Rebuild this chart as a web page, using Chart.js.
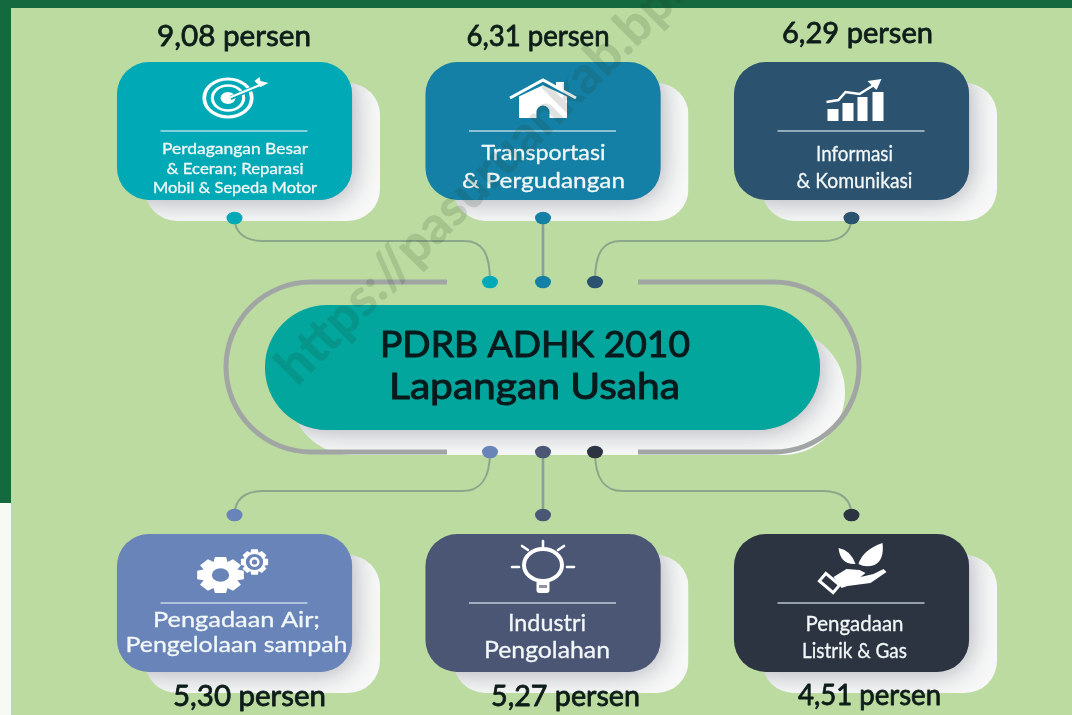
<!DOCTYPE html>
<html>
<head>
<meta charset="utf-8">
<title>PDRB ADHK 2010 Lapangan Usaha</title>
<script src="https://cdn.jsdelivr.net/npm/chart.js@4"></script>
<style>
  html, body { margin: 0; padding: 0; background: #bbdba0; }
  canvas { display: block; }
</style>
</head>
<body>
<canvas id="chart" width="1072" height="715"></canvas>
<script>
// data
const kolom = ['kiri', 'tengah', 'kanan'];
const kategoriAtas = [
  ['Perdagangan Besar', '& Eceran; Reparasi', 'Mobil & Sepeda Motor'],
  ['Transportasi', '& Pergudangan'],
  ['Informasi', '& Komunikasi']
];
const kategoriBawah = [
  ['Pengadaan Air;', 'Pengelolaan sampah'],
  ['Industri', 'Pengolahan'],
  ['Pengadaan', 'Listrik & Gas']
];
const nilaiAtas = [9.08, 6.31, 6.29];
const nilaiBawah = [5.30, 5.27, 4.51];
const judul = ['PDRB ADHK 2010', 'Lapangan Usaha'];
const satuan = 'persen';
const watermark = 'https://pasuruankab.bps.go.id';

// styles and layout, kept apart from the data
const warnaAtas = ['#00a9b6', '#1580a5', '#2b526e'];
const warnaBawah = ['#6984b8', '#4a5674', '#2c3442'];
const FONT = 'Lato, "Noto Sans", sans-serif';
const barisKartu = 0.1462;  // half card height, in row units
const RADIUS = 32;

// per card text layout: [dx from card centre, dy of each line, width of each line, font size]
const labelAtas = [
  { dx: 0.5, dy: [18, 38, 57], lebar: [146, 137, 164], size: 15 },
  { dx: 0.5, dy: [22, 50], lebar: [124, 163], size: 22 },
  { dx: 3, dy: [23, 50], lebar: [77, 116], size: 21 }
];
const labelBawah = [
  { dx: 2, dy: [17, 42], lebar: [167, 222], size: 21 },
  { dx: 4, dy: [21, 48], lebar: [78, 126], size: 23 },
  { dx: 3, dy: [21, 48], lebar: [98, 105], size: 21 }
];
// value captions: dx and dy from card centre, width
const captionAtas = [
  { dx: -0.5, dy: -94, lebar: 154 },
  { dx: -5, dy: -94, lebar: 143 },
  { dx: 6, dy: -97, lebar: 151 }
];
const captionBawah = [
  { dx: 15, dy: 94, lebar: 153 },
  { dx: 22.5, dy: 94, lebar: 149 },
  { dx: 18, dy: 93, lebar: 143 }
];

function tulis(ctx, str, cx, cy, font, warna, lebar, tebal) {
  ctx.save();
  ctx.font = font;
  ctx.fillStyle = warna;
  ctx.textAlign = 'center';
  ctx.textBaseline = 'middle';
  ctx.translate(cx, cy);
  if (lebar) ctx.scale(lebar / ctx.measureText(str).width, 1);
  ctx.fillText(str, 0, 0);
  if (tebal) {
    ctx.strokeStyle = warna;
    ctx.lineWidth = tebal;
    ctx.lineJoin = 'round';
    ctx.strokeText(str, 0, 0);
  }
  ctx.restore();
}

function rounded(ctx, x, y, w, h, r) {
  ctx.beginPath();
  ctx.roundRect(x, y, w, h, r);
}

function titik(ctx, x, y, rx, ry, warna) {
  ctx.beginPath();
  ctx.ellipse(x, y, rx, ry, 0, 0, Math.PI * 2);
  ctx.fillStyle = warna;
  ctx.fill();
}

function gear(ctx, cx, cy, rx, ry, gigi, lubang) {
  ctx.save();
  ctx.translate(cx, cy);
  ctx.scale(rx, ry);
  ctx.beginPath();
  const step = Math.PI * 2 / gigi;
  for (let i = 0; i < gigi; i++) {
    const a = i * step;
    const pts = [[-0.5, 0.76], [-0.3, 1], [0.3, 1], [0.5, 0.76]];
    pts.forEach(function (p, j) {
      const t = a + p[0] * step;
      const px = Math.cos(t) * p[1], py = Math.sin(t) * p[1];
      if (i === 0 && j === 0) ctx.moveTo(px, py); else ctx.lineTo(px, py);
    });
  }
  ctx.closePath();
  ctx.moveTo(lubang, 0);
  ctx.arc(0, 0, lubang, 0, Math.PI * 2, true);
  ctx.fillStyle = '#fff';
  ctx.fill('evenodd');
  ctx.restore();
}

// icons, drawn in coordinates relative to the card centre
const ikon = {
  target(ctx) {
    ctx.strokeStyle = '#fff';
    ctx.fillStyle = '#fff';
    ctx.save();
    ctx.translate(-6.5, -33);
    ctx.scale(1.25, 1);
    ctx.lineWidth = 3;
    ctx.beginPath(); ctx.arc(0, 0, 19, 0, Math.PI * 2); ctx.stroke();
    ctx.lineWidth = 2.5;
    ctx.beginPath(); ctx.arc(0, 0, 12.5, 0, Math.PI * 2); ctx.stroke();
    ctx.beginPath(); ctx.arc(0, 0, 6, 0, Math.PI * 2); ctx.fill();
    ctx.restore();
    ctx.strokeStyle = '#00a9b6';
    ctx.lineWidth = 4.5;
    ctx.beginPath(); ctx.moveTo(-4, -33); ctx.lineTo(21, -44); ctx.stroke();
    ctx.strokeStyle = '#fff';
    ctx.lineWidth = 2.2;
    ctx.beginPath(); ctx.moveTo(-6, -33); ctx.lineTo(28, -47); ctx.stroke();
    ctx.beginPath();
    ctx.moveTo(20, -50); ctx.lineTo(26, -44); ctx.lineTo(34, -48);
    ctx.lineTo(26, -50); ctx.lineTo(25, -54); ctx.closePath(); ctx.fill();
  },
  rumah(ctx) {
    ctx.fillStyle = '#fff';
    ctx.beginPath();
    ctx.moveTo(-24, -36); ctx.lineTo(0, -47); ctx.lineTo(24, -36);
    ctx.lineTo(24, -13); ctx.lineTo(6.5, -13); ctx.lineTo(6.5, -19);
    ctx.arc(0, -19, 6.5, 0, Math.PI, true);
    ctx.lineTo(-6.5, -13); ctx.lineTo(-24, -13); ctx.closePath();
    ctx.fill();
    ctx.fillRect(13, -49, 8, 12);
    // roof line with a gap under it
    ctx.strokeStyle = '#1580a5';
    ctx.lineWidth = 2.5;
    ctx.beginPath(); ctx.moveTo(-30, -33); ctx.lineTo(0, -47); ctx.lineTo(30, -33); ctx.stroke();
    ctx.strokeStyle = '#fff';
    ctx.lineWidth = 3;
    ctx.beginPath(); ctx.moveTo(-33, -33); ctx.lineTo(0, -51); ctx.lineTo(33, -33); ctx.stroke();
  },
  grafik(ctx) {
    ctx.fillStyle = '#fff';
    ctx.strokeStyle = '#fff';
    ctx.fillRect(-24, -22, 11, 12);
    ctx.fillRect(-9, -28, 11, 18);
    ctx.fillRect(6, -34, 10, 24);
    ctx.fillRect(21, -39, 11, 29);
    ctx.lineWidth = 2.5;
    ctx.beginPath();
    ctx.moveTo(-25, -29); ctx.lineTo(-13, -31); ctx.lineTo(-6, -39);
    ctx.lineTo(8, -37); ctx.lineTo(24, -47);
    ctx.stroke();
    ctx.beginPath();
    ctx.moveTo(30, -52); ctx.lineTo(16, -50); ctx.lineTo(25, -41); ctx.closePath();
    ctx.fill();
  },
  roda(ctx) {
    gear(ctx, -14, -28, 24, 18.5, 8, 0.36);
    gear(ctx, 20, -41, 14, 13, 8, 0.62);
    ctx.fillStyle = '#fff';
    ctx.beginPath(); ctx.arc(20, -41, 5, 0, Math.PI * 2); ctx.fill();
    ctx.fillStyle = '#6984b8';
    ctx.beginPath(); ctx.arc(20, -41, 2.6, 0, Math.PI * 2); ctx.fill();
    ctx.beginPath(); ctx.ellipse(-14, -28, 4, 3, 0, 0, Math.PI * 2); ctx.fill();
  },
  lampu(ctx) {
    ctx.strokeStyle = '#fff';
    ctx.fillStyle = '#fff';
    ctx.lineWidth = 4;
    ctx.beginPath(); ctx.ellipse(0, -38, 19, 16, 0, 0, Math.PI * 2); ctx.stroke();
    ctx.beginPath();
    ctx.roundRect(-6.5, -23, 13, 13, 3);
    ctx.fill();
    ctx.fillStyle = '#8d93a0';
    ctx.fillRect(-4, -18, 8, 3);
    ctx.lineWidth = 2.6;
    ctx.lineCap = 'round';
    [[0, -62, 0, -56], [-21, -57, -15, -53], [21, -57, 15, -53], [-31, -36, -24, -36], [24, -36, 31, -36]].forEach(function (s) {
      ctx.beginPath(); ctx.moveTo(s[0], s[1]); ctx.lineTo(s[2], s[3]); ctx.stroke();
    });
    ctx.lineCap = 'butt';
  },
  tangan(ctx) {
    ctx.fillStyle = '#fff';
    // leaves
    ctx.beginPath();
    ctx.moveTo(-13, -55); ctx.quadraticCurveTo(-1, -53, 4, -39);
    ctx.quadraticCurveTo(-11, -38, -13, -55); ctx.fill();
    ctx.beginPath();
    ctx.moveTo(31, -60); ctx.quadraticCurveTo(33, -43, 23, -38);
    ctx.quadraticCurveTo(14, -35, 7, -39); ctx.quadraticCurveTo(11, -53, 31, -60); ctx.fill();
    // palm
    ctx.beginPath();
    ctx.moveTo(-18, -26); ctx.lineTo(-5, -34); ctx.lineTo(8, -33);
    ctx.lineTo(14, -30); ctx.lineTo(9, -26); ctx.lineTo(22, -29);
    ctx.lineTo(32, -34); ctx.lineTo(35, -31); ctx.lineTo(19, -20);
    ctx.lineTo(-4, -17); ctx.lineTo(-10, -15); ctx.closePath(); ctx.fill();
    // cuff
    ctx.save();
    ctx.translate(-22, -20);
    ctx.rotate(0.7);
    ctx.lineWidth = 3;
    ctx.strokeStyle = '#fff';
    ctx.strokeRect(-9, -5, 18, 10);
    ctx.restore();
  }
};
const ikonAtas = ['target', 'rumah', 'grafik'];
const ikonBawah = ['roda', 'lampu', 'tangan'];

const latar = {
  id: 'latar',
  beforeDraw(chart) {
    const ctx = chart.ctx, W = chart.width, H = chart.height;
    ctx.save();
    ctx.fillStyle = '#bbdba0';
    ctx.fillRect(0, 0, W, H);
    ctx.fillStyle = '#f5faf3';
    ctx.fillRect(0, 500, 11, H - 500);
    ctx.fillStyle = '#14693f';
    ctx.fillRect(0, 0, 11, 503);
    ctx.fillRect(0, 0, W, 8);
    ctx.restore();
  },
  beforeDatasetsDraw(chart) {
    const ctx = chart.ctx;
    const xs = chart.getDatasetMeta(0).data.map(function (b) { return b.x; });
    ctx.save();
    gambarPenghubung(ctx, xs);
    chart.data.datasets.forEach(function (ds, i) {
      chart.getDatasetMeta(i).data.forEach(function (b) {
        const w = b.width, h = Math.abs(b.base - b.y), x = b.x - w / 2, y = Math.min(b.y, b.base);
        bayangan(ctx, x, y, w, h, RADIUS, 28, 21);
      });
    });
    gambarPusat(ctx);
    gambarTitik(ctx, xs);
    ctx.restore();
  },
  afterDatasetsDraw(chart) {
    const ctx = chart.ctx;
    ctx.save();
    chart.data.datasets.forEach(function (ds, i) {
      const labels = i === 0 ? kategoriAtas : kategoriBawah;
      const nilai = i === 0 ? nilaiAtas : nilaiBawah;
      const lay = i === 0 ? labelAtas : labelBawah;
      const cap = i === 0 ? captionAtas : captionBawah;
      const ik = i === 0 ? ikonAtas : ikonBawah;
      chart.getDatasetMeta(i).data.forEach(function (b, j) {
        const cx = b.x, cy = (b.y + b.base) / 2;
        // divider
        ctx.fillStyle = 'rgba(225,238,245,0.72)';
        ctx.fillRect(cx - 74, cy - 0.8, 147, 1.6);
        // category text
        labels[j].forEach(function (line, k) {
          tulis(ctx, line, cx + lay[j].dx, cy + lay[j].dy[k], lay[j].size + 'px ' + FONT, '#f2f7f8', lay[j].lebar[k], 0.3);
        });
        // icon
        ctx.save();
        ctx.translate(cx, cy);
        ikon[ik[j]](ctx);
        ctx.restore();
        // value caption
        const teks = nilai[j].toFixed(2).replace('.', ',') + ' ' + satuan;
        tulis(ctx, teks, cx + cap[j].dx, cy + cap[j].dy, '29px ' + FONT, '#0e1d1a', cap[j].lebar, 0.8);
      });
    });
    // watermark goes over everything
    ctx.translate(297, 387);
    ctx.rotate(-Math.PI / 4);
    ctx.font = '900 52px ' + FONT;
    ctx.fillStyle = 'rgba(30,50,30,0.14)';
    ctx.textAlign = 'left';
    ctx.textBaseline = 'alphabetic';
    ctx.fillText(watermark, 0, 0);
    ctx.restore();
  }
};

function bayangan(ctx, x, y, w, h, r, ox, oy) {
  ctx.save();
  rounded(ctx, x + ox, y + oy, w, h, r);
  ctx.clip();
  ctx.fillStyle = '#f7f8f7';
  ctx.fillRect(x, y, w + ox, h + oy);
  ctx.shadowColor = 'rgba(125,128,145,0.6)';
  ctx.shadowBlur = 26;
  ctx.shadowOffsetX = 2;
  ctx.shadowOffsetY = 2;
  ctx.fillStyle = '#999';
  rounded(ctx, x, y, w, h, r);
  ctx.fill();
  ctx.restore();
}

function gambarPenghubung(ctx, xs) {
  const a = 490, b = xs[1], c = 595;
  ctx.strokeStyle = '#8aa78a';
  ctx.lineWidth = 2;
  ctx.beginPath();
  ctx.moveTo(xs[0], 218); ctx.bezierCurveTo(xs[0], 232, xs[0] + 10, 241, xs[0] + 28, 241);
  ctx.lineTo(a - 26, 241); ctx.bezierCurveTo(a - 8, 241, a, 252, a, 282);
  ctx.moveTo(xs[2], 218); ctx.bezierCurveTo(xs[2], 232, xs[2] - 10, 241, xs[2] - 28, 241);
  ctx.lineTo(c + 26, 241); ctx.bezierCurveTo(c + 8, 241, c, 252, c, 282);
  ctx.moveTo(a, 452); ctx.bezierCurveTo(a, 480, a - 10, 491, a - 28, 491);
  ctx.lineTo(xs[0] + 28, 491); ctx.bezierCurveTo(xs[0] + 10, 491, xs[0], 500, xs[0], 515);
  ctx.moveTo(c, 452); ctx.bezierCurveTo(c, 480, c + 10, 491, c + 28, 491);
  ctx.lineTo(xs[2] - 28, 491); ctx.bezierCurveTo(xs[2] - 10, 491, xs[2], 500, xs[2], 515);
  ctx.stroke();
  ctx.strokeStyle = '#86a09a';
  ctx.lineWidth = 2.6;
  ctx.beginPath();
  ctx.moveTo(b, 218); ctx.lineTo(b, 282);
  ctx.moveTo(b, 452); ctx.lineTo(b, 515);
  ctx.stroke();
}

function gambarTitik(ctx, xs) {
  const tengah = [490, xs[1], 595];
  xs.forEach(function (x, i) {
    titik(ctx, x, 218, 8, 6.3, warnaAtas[i]);
    titik(ctx, x, 515, 8, 6.3, warnaBawah[i]);
    titik(ctx, tengah[i], 282, 8, 6.3, warnaAtas[i]);
    titik(ctx, tengah[i], 452, 8, 6.3, warnaBawah[i]);
  });
}

function gambarPusat(ctx) {
  // pill shadow
  bayangan(ctx, 265, 305, 555, 125, 62, 25, 25);
  // grey bracket
  ctx.strokeStyle = '#a1a6a5';
  ctx.lineWidth = 5;
  ctx.beginPath();
  ctx.moveTo(447, 282); ctx.lineTo(311, 282); ctx.arc(311, 367, 85, -Math.PI / 2, Math.PI / 2, true); ctx.lineTo(447, 452);
  ctx.moveTo(638, 282); ctx.lineTo(774, 282); ctx.arc(774, 367, 85, -Math.PI / 2, Math.PI / 2, false); ctx.lineTo(638, 452);
  ctx.stroke();
  // pill
  rounded(ctx, 265, 305, 555, 125, 62);
  ctx.fillStyle = '#03a69c';
  ctx.fill();
  tulis(ctx, judul[0], 535, 345, '37px ' + FONT, '#081a1c', 310, 1);
  tulis(ctx, judul[1], 534.5, 387, '37px ' + FONT, '#081a1c', 291, 1);
}

new Chart(document.getElementById('chart'), {
  type: 'bar',
  plugins: [latar],
  data: {
    labels: kolom,
    datasets: [
      { label: 'Atas', data: nilaiAtas.map(function () { return [-barisKartu, barisKartu]; }), backgroundColor: warnaAtas },
      { label: 'Bawah', data: nilaiBawah.map(function () { return [1 - barisKartu, 1 + barisKartu]; }), backgroundColor: warnaBawah }
    ]
  },
  options: {
    responsive: false,
    animation: false,
    layout: { padding: { left: 80.25, right: 66.25, top: 0, bottom: 0 } },
    datasets: {
      bar: { grouped: false, barPercentage: 1, categoryPercentage: 0.762, borderRadius: RADIUS, borderSkipped: false }
    },
    plugins: { legend: { display: false }, tooltip: { enabled: false } },
    scales: {
      x: { display: false, grid: { display: false } },
      y: { display: false, reverse: true, min: -0.2775, max: 1.2373, grid: { display: false } }
    }
  }
});
</script>
</body>
</html>
